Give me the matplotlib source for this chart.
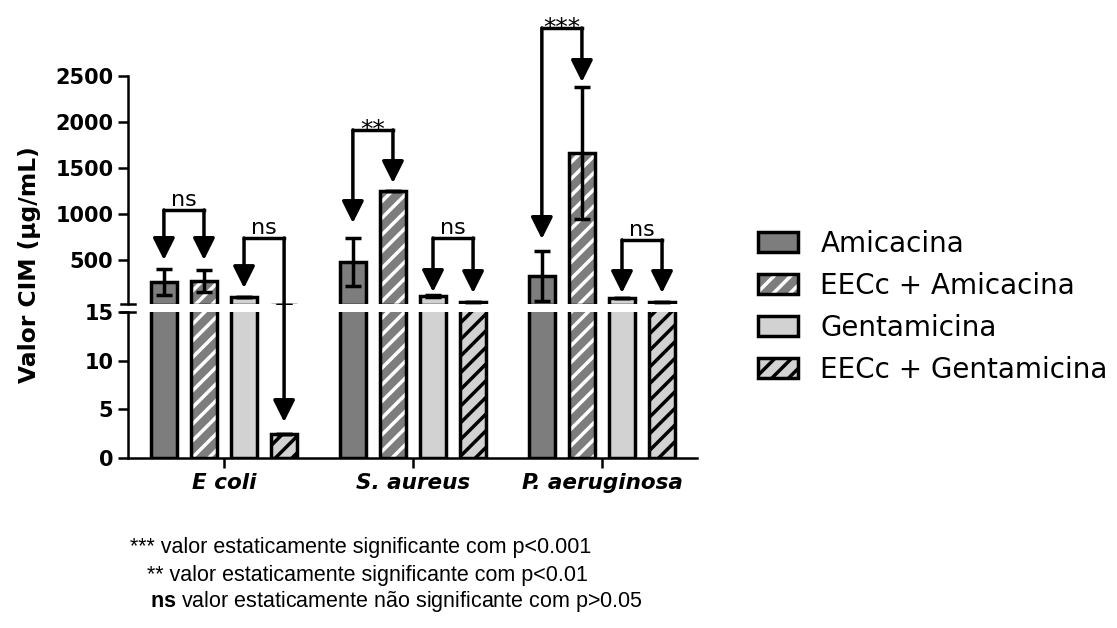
import matplotlib.pyplot as plt
import numpy as np
from matplotlib.patches import Patch

plt.rcParams["font.family"] = "DejaVu Sans"
plt.rcParams["hatch.linewidth"] = 2.5
plt.rcParams["mathtext.fontset"] = "custom"
plt.rcParams["mathtext.bf"] = "Liberation Sans:bold"
plt.rcParams["mathtext.rm"] = "Liberation Sans"

GROUPS = ["E coli", "S. aureus", "P. aeruginosa"]
SERIES = ["Amicacina", "EECc + Amicacina", "Gentamicina", "EECc + Gentamicina"]
AMICACINA = [255, 475, 320]
AMICACINA_ERR = [145, 262, 268]
EECC_AMICACINA = [262, 1250, 1660]
EECC_AMICACINA_ERR = [120, 0, 720]
GENTAMICINA = [90, 100, 82]
GENTAMICINA_ERR = [0, 8, 0]
EECC_GENTAMICINA = [2.5, 37, 37]
EECC_GENTAMICINA_ERR = [0, 4, 4]

# group, bar a, bar b, bracket height, tip a, tip b, label
# (tips below 15 point into the lower segment)
BRACKETS = [
    (0, 0, 1, 1040, 495, 495, "ns"),
    (0, 2, 3, 734, 189, 3.7, "ns"),
    (1, 0, 1, 1912, 898, 1334, "**"),
    (1, 2, 3, 734, 146, 135, "ns"),
    (2, 0, 1, 3023, 724, 2435, "***"),
    (2, 2, 3, 713, 135, 135, "ns"),
]

NOTES = [
    "*** valor estaticamente significante com p<0.001",
    "** valor estaticamente significante com p<0.01",
    r"$\mathbf{ns}$ valor estaticamente não significante com p>0.05",
]

DARK = "#7d7d7d"
LIGHT = "#d2d2d2"
STEP = 0.212
WIDTH = 0.14
LW = 2.5

W, H = 1117, 628
fig = plt.figure(figsize=(W / 100, H / 100), dpi=100)
left, right = 128 / W, 697 / W
ax_top = fig.add_axes([left, 1 - 304 / H, right - left, (304 - 76) / H])
ax_low = fig.add_axes([left, 1 - 458 / H, right - left, (458 - 312) / H])
for ax in (ax_top, ax_low):
    ax.patch.set_visible(False)

series = [
    (AMICACINA, AMICACINA_ERR, DARK, None),
    (EECC_AMICACINA, EECC_AMICACINA_ERR, DARK, "white"),
    (GENTAMICINA, GENTAMICINA_ERR, LIGHT, None),
    (EECC_GENTAMICINA, EECC_GENTAMICINA_ERR, LIGHT, "black"),
]
xs = np.arange(len(GROUPS))

for ax in (ax_top, ax_low):
    for s, (vals, err, fc, hc) in enumerate(series):
        x = xs + (s - 1.5) * STEP
        if hc:
            ax.bar(x, vals, WIDTH, color=fc, edgecolor=hc, hatch="//", linewidth=0)
            ax.bar(x, vals, WIDTH, fill=False, edgecolor="k", linewidth=LW)
        else:
            ax.bar(x, vals, WIDTH, color=fc, edgecolor="k", linewidth=LW)
        ax.errorbar(x, vals, yerr=err, fmt="none", ecolor="k",
                    elinewidth=LW, capsize=6, capthick=LW)
    ax.set_xlim(-0.508, 2.503)
    for sp in ("top", "right"):
        ax.spines[sp].set_visible(False)
    ax.spines["left"].set_linewidth(1.8)
    ax.spines["bottom"].set_linewidth(1.8)
    ax.tick_params(width=1.8, length=7)

ax_top.set_ylim(15, 2500)
ax_top.set_yticks([500, 1000, 1500, 2000, 2500],
                  ["500", "1000", "1500", "2000", "2500"],
                  fontsize=15, fontweight="bold")
ax_top.spines["bottom"].set_visible(False)
ax_top.set_xticks([])

ax_low.set_ylim(0, 15)
ax_low.set_yticks([0, 5, 10, 15], ["0", "5", "10", "15"],
                  fontsize=15, fontweight="bold")
ax_low.set_xticks(xs, GROUPS, fontsize=15.5, fontweight="bold", fontstyle="italic")

# break marks on the y axis
ax_low.plot([-0.012, 0.012], [1, 1], transform=ax_low.transAxes,
            color="k", lw=1.8, clip_on=False)
ax_top.plot([-0.012, 0.012], [0, 0], transform=ax_top.transAxes,
            color="k", lw=1.8, clip_on=False)

# significance brackets
for g, a, b, by, ta, tb, label in BRACKETS:
    xa = g + (a - 1.5) * STEP
    xb = g + (b - 1.5) * STEP
    ax_top.plot([xa, xb], [by, by], color="k", lw=LW,
                solid_capstyle="projecting", clip_on=False)
    for xx, tip in ((xa, ta), (xb, tb)):
        trans = ax_low.transData if tip < 15 else ax_top.transData
        ax_top.annotate(
            "", xy=(xx, tip), xycoords=trans,
            xytext=(xx, by), textcoords=ax_top.transData,
            arrowprops=dict(arrowstyle="-|>,head_length=0.6,head_width=0.3",
                            mutation_scale=22, color="k", lw=LW,
                            shrinkA=0, shrinkB=0),
            annotation_clip=False,
        )
    star = label.startswith("*")
    ax_top.annotate(label, xy=((xa + xb) / 2, by),
                    xytext=(0, -5 if star else 3),
                    textcoords="offset points", ha="center", va="baseline",
                    fontsize=18 if star else 16, annotation_clip=False)

fig.text(30 / W, 1 - 265 / H, "Valor CIM (µg/mL)", rotation=90,
         ha="center", va="center", fontsize=16.8, fontweight="bold")

handles = [
    Patch(facecolor=DARK, edgecolor="k", linewidth=LW),
    (Patch(facecolor=DARK, edgecolor="white", hatch="//", linewidth=0),
     Patch(fill=False, edgecolor="k", linewidth=LW)),
    Patch(facecolor=LIGHT, edgecolor="k", linewidth=LW),
    (Patch(facecolor=LIGHT, edgecolor="black", hatch="//", linewidth=0),
     Patch(fill=False, edgecolor="k", linewidth=LW)),
]
fig.legend(handles, SERIES, loc="upper left",
           bbox_to_anchor=(758 / W, 1 - 230 / H), frameon=False, fontsize=20,
           handlelength=1.45, handleheight=0.75, handletextpad=0.8,
           labelspacing=0.5, borderpad=0, borderaxespad=0)

for (x, y), note in zip([(130, 548), (147, 576), (150, 601)], NOTES):
    fig.text(x / W, 1 - y / H, note, fontsize=15.5, va="center",
             family="Liberation Sans")

fig.savefig("out.png", dpi=100)
